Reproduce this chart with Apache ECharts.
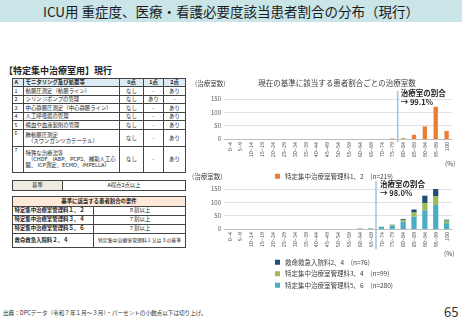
<!DOCTYPE html>
<html>
<head>
<meta charset="utf-8">
<script src="https://cdn.jsdelivr.net/npm/echarts@6/dist/echarts.min.js"></script>
<style>
  html, body { margin: 0; padding: 0; }
  body {
    width: 462px; height: 320px; position: relative; overflow: hidden;
    background: #fff; font-family: "Noto Sans CJK JP", "Noto Sans", sans-serif; color: #222;
  }
  .band {
    position: absolute; left: 0; top: 0; width: 462px; height: 22px;
    background: #c9e5e8; text-align: center; line-height: 22px; font-size: 13.5px; color: #1a1a1a;
  }
  .sub { position: absolute; left: 4px; top: 64px; font-size: 9px; font-weight: bold; }
  table { position: absolute; border-collapse: collapse; table-layout: fixed; font-size: 5.4px; line-height: 6.2px; }
  td { border: 0.8px solid #444; padding: 0 1.5px; overflow: hidden; white-space: nowrap; }
  .c { text-align: center; }
  .hd td { background: #dcebf4; font-weight: bold; }
  .beige { background: #eeece1; }
  .peach td { background: #fde9d9; font-weight: bold; text-align: center; }
  .b { font-weight: bold; }
  .foot { position: absolute; left: 3px; top: 309px; font-size: 5.6px; color: #333; }
  .page { position: absolute; left: 444px; top: 302px; font-size: 13px; color: #333; }
  #chart { position: absolute; left: 186px; top: 70px; width: 276px; height: 240px; }
</style>
</head>
<body>
<div class="band">ICU用 重症度、医療・看護必要度該当患者割合の分布（現行）</div>
<div class="sub">【特定集中治療室用】現行</div>

<table style="left:12px; top:78px; width:173px;">
  <colgroup><col style="width:11px"><col style="width:96px"><col style="width:24px"><col style="width:20px"><col style="width:22px"></colgroup>
  <tr class="hd" style="height:8px"><td>A</td><td>モニタリング及び処置等</td><td class="c">0点</td><td class="c">1点</td><td class="c">2点</td></tr>
  <tr style="height:8.5px"><td>1</td><td>動脈圧測定（動脈ライン）</td><td class="c">なし</td><td class="c">-</td><td class="c">あり</td></tr>
  <tr style="height:8.5px"><td>2</td><td>シリンジポンプの管理</td><td class="c">なし</td><td class="c">あり</td><td class="c">-</td></tr>
  <tr style="height:8.5px"><td>3</td><td>中心静脈圧測定（中心静脈ライン）</td><td class="c">なし</td><td class="c">-</td><td class="c">あり</td></tr>
  <tr style="height:8.5px"><td>4</td><td>人工呼吸器の管理</td><td class="c">なし</td><td class="c">-</td><td class="c">あり</td></tr>
  <tr style="height:8.5px"><td>5</td><td>輸血や血液製剤の管理</td><td class="c">なし</td><td class="c">-</td><td class="c">あり</td></tr>
  <tr style="height:17.5px"><td style="vertical-align:top">6</td><td>肺動脈圧測定<br>&nbsp;&nbsp;（スワンガンツカテーテル）</td><td class="c">なし</td><td class="c">-</td><td class="c">あり</td></tr>
  <tr style="height:25.5px"><td style="vertical-align:top">7</td><td>特殊な治療法等<br>&nbsp;&nbsp;（CHDF、IABP、PCPS、補助人工心<br>臓、 ICP測定、ECMO、IMPELLA）</td><td class="c">なし</td><td class="c">-</td><td class="c">あり</td></tr>
</table>

<table style="left:12px; top:180px; width:173px;">
  <colgroup><col style="width:50px"><col style="width:123px"></colgroup>
  <tr style="height:10px"><td class="c beige">基準</td><td class="c">A得点2点以上</td></tr>
</table>

<table style="left:12px; top:196px; width:173px;">
  <colgroup><col style="width:81px"><col style="width:92px"></colgroup>
  <tr class="peach" style="height:9.5px"><td colspan="2">基準に該当する患者割合の要件</td></tr>
  <tr style="height:9px"><td class="b">特定集中治療室管理料１、２</td><td class="c">８割以上</td></tr>
  <tr style="height:9px"><td class="b">特定集中治療室管理料３、４</td><td class="c">７割以上</td></tr>
  <tr style="height:9px"><td class="b">特定集中治療室管理料５、６</td><td class="c">７割以上</td></tr>
  <tr style="height:14px"><td class="b">救命救急入院料２、４</td><td class="c" style="font-size:4.9px">特定集中治療室管理料１又は３の基準</td></tr>
</table>

<div class="foot">出典：DPCデータ（令和７年１月～３月）・パーセントの小数点以下は切り上げ。</div>
<div class="page">65</div>

<div id="chart"></div>

<script>
// 患者割合の区分（%）
const categories = ['0~4', '5~9', '10~14', '15~19', '20~24', '25~29', '30~34', '35~39', '40~44', '45~49',
  '50~54', '55~59', '60~64', '65~69', '70~74', '75~79', '80~84', '85~89', '90~94', '95~99', '100']
const yTicks = { min: 0, max: 150, interval: 50 }

// 治療室数（現行基準）
const icu12 = [0, 0, 0, 0, 0, 0, 0, 0, 0, 0, 0, 0, 0, 0, 0, 2, 3, 16, 47, 121, 30]
const icu56 = [0, 0, 0, 0, 0, 0, 0, 0, 0, 0, 0, 0, 2, 2, 8, 12, 27, 47, 70, 90, 22]
const icu34 = [0, 0, 0, 0, 0, 0, 0, 0, 0, 0, 0, 0, 0, 1, 1, 3, 7, 16, 28, 33, 10]
const kyumei24 = [0, 0, 0, 0, 0, 0, 0, 0, 0, 0, 0, 0, 0, 0, 0, 1, 3, 10, 27, 32, 3]

const name12 = '特定集中治療室管理料1、2　(n=219)'
const name34 = '特定集中治療室管理料3、4　(n=99)'
const name56 = '特定集中治療室管理料5、6　(n=280)'
const nameKyumei = '救命救急入院料2、4　(n=76)'

const gray = '#595959'
const font = '"Noto Sans CJK JP", sans-serif'

function xAxisFor(i) {
  return {
    type: 'category', gridIndex: i, data: categories,
    axisTick: { show: false },
    axisLine: { lineStyle: { color: '#bfbfbf' } },
    axisLabel: { interval: 0, rotate: 90, fontSize: 5.5, color: gray, margin: 3, fontFamily: font }
  }
}
function yAxisFor(i) {
  return {
    type: 'value', gridIndex: i, min: yTicks.min, max: yTicks.max, interval: yTicks.interval,
    axisLabel: { fontSize: 6, color: gray, margin: 3, fontFamily: font },
    splitLine: { lineStyle: { color: '#d9d9d9', width: 0.8 } }
  }
}

const chart = echarts.init(document.getElementById('chart'))
chart.setOption({
  animation: false,
  textStyle: { fontFamily: font },
  title: {
    text: '現在の基準に該当する患者割合ごとの治療室数', left: 146, top: 4, textAlign: 'center',
    textStyle: { fontSize: 7.5, fontWeight: 'normal', color: '#404040' }
  },
  grid: [
    { left: 38, top: 29, width: 228, height: 40 },
    { left: 38, top: 119, width: 228, height: 40 }
  ],
  xAxis: [xAxisFor(0), xAxisFor(1)],
  yAxis: [yAxisFor(0), yAxisFor(1)],
  legend: [
    {
      left: 84, top: 98, itemWidth: 5, itemHeight: 5, icon: 'rect',
      textStyle: { fontSize: 6.5, color: '#404040' }, data: [name12]
    },
    {
      left: 84, top: 184, height: 50, orient: 'vertical', itemGap: 5, itemWidth: 5, itemHeight: 5, icon: 'rect',
      textStyle: { fontSize: 6.5, color: '#404040' }, data: [nameKyumei, name34, name56]
    }
  ],
  series: [
    { name: name12, type: 'bar', xAxisIndex: 0, yAxisIndex: 0, data: icu12, barWidth: '40%', itemStyle: { color: '#ed7d31' } },
    { name: name56, type: 'bar', xAxisIndex: 1, yAxisIndex: 1, stack: 'b', data: icu56, barWidth: '48%', itemStyle: { color: '#4bacc6' } },
    { name: name34, type: 'bar', xAxisIndex: 1, yAxisIndex: 1, stack: 'b', data: icu34, barWidth: '48%', itemStyle: { color: '#9bbb59' } },
    { name: nameKyumei, type: 'bar', xAxisIndex: 1, yAxisIndex: 1, stack: 'b', data: kyumei24, barWidth: '48%', itemStyle: { color: '#1f4e79' } }
  ]
})

// 基準線（区分の境目）と注記
function between(axis, a, b) {
  return (chart.convertToPixel({ xAxisIndex: axis }, categories[a]) +
          chart.convertToPixel({ xAxisIndex: axis }, categories[b])) / 2
}
const lx1 = between(0, 15, 16)
const lx2 = between(1, 13, 14)
const top1 = chart.convertToPixel({ yAxisIndex: 0 }, 150)
const zero1 = chart.convertToPixel({ yAxisIndex: 0 }, 0)
const top2 = chart.convertToPixel({ yAxisIndex: 1 }, 150)
const zero2 = chart.convertToPixel({ yAxisIndex: 1 }, 0)
const noteStyle = { fontSize: 7.5, fontWeight: 'bold', fill: '#262626', lineHeight: 8.5, fontFamily: font }
const smallStyle = { fontSize: 6.5, fill: '#404040', fontFamily: font }

chart.setOption({
  graphic: [
    { type: 'line', shape: { x1: lx1, y1: top1 - 8, x2: lx1, y2: zero1 + 3 }, style: { stroke: '#a9c6e0', lineWidth: 1.6 } },
    { type: 'line', shape: { x1: lx2, y1: top2 - 8, x2: lx2, y2: zero2 + 20 }, style: { stroke: '#a9c6e0', lineWidth: 1.6 } },
    { type: 'text', left: lx1 + 3, top: top1 - 10, style: Object.assign({ text: '治療室の割合\n→ 99.1%' }, noteStyle) },
    { type: 'text', left: lx2 + 4, top: top2 - 9, style: Object.assign({ text: '治療室の割合\n→ 98.0%' }, noteStyle) },
    { type: 'text', left: 9, top: 10, style: Object.assign({ text: '(治療室数)' }, smallStyle) },
    { type: 'text', left: 6, top: 103, style: Object.assign({ text: '(治療室数)' }, smallStyle) },
    { type: 'text', left: 259, top: 90, style: Object.assign({ text: '(%)' }, smallStyle) },
    { type: 'text', left: 258, top: 180, style: Object.assign({ text: '(%)' }, smallStyle) }
  ]
})
</script>
</body>
</html>
